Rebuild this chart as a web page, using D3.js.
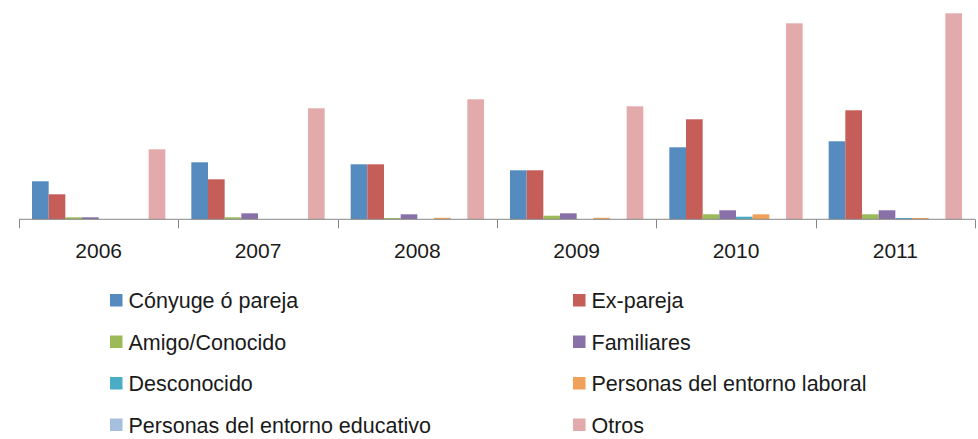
<!DOCTYPE html>
<html>
<head>
<meta charset="utf-8">
<script src="https://cdn.jsdelivr.net/npm/d3@7"></script>
<style>
  body { margin: 0; background: #fff; }
  svg { display: block; font-family: 'Liberation Sans', 'Open Sans', sans-serif; }
</style>
</head>
<body>
<script>
// data
const years = ['2006', '2007', '2008', '2009', '2010', '2011'];
const series = ['Cónyuge ó pareja', 'Ex-pareja', 'Amigo/Conocido', 'Familiares',
  'Desconocido', 'Personas del entorno laboral', 'Personas del entorno educativo', 'Otros'];
const colors = ['#558BBF', '#C55D58', '#9BBB59', '#8A70A8', '#4BACC6', '#F0A058', '#A7BFDE', '#E2AAAA'];

const conyuge   = [38, 57, 55, 49, 72, 78];
const expareja  = [25, 40, 55, 49, 100, 109];
const amigo     = [2, 2, 1.3, 3.6, 5, 5];
const familiares = [2, 6, 5, 6, 9, 9];
const desconocido = [0, 0, 0, 0, 2.6, 1.3];
const laboral   = [0, 0, 1.5, 1.5, 5, 1.3];
const educativo = [0, 0, 0, 0, 0, 0];
const otros     = [70, 111, 120, 113, 196, 206];

const values = [conyuge, expareja, amigo, familiares, desconocido, laboral, educativo, otros];

const width = 978, height = 439;
const baseline = 219.3;
const left = 19, right = 975;

const svg = d3.select('body').append('svg')
  .attr('width', width)
  .attr('height', height);

const x0 = d3.scaleBand().domain(years).range([left, right]).paddingInner(0).paddingOuter(0);
const x1 = d3.scaleBand().domain(d3.range(series.length)).range([0, x0.bandwidth()])
  .paddingInner(0).paddingOuter(0.78);
// one value unit = one pixel
const y = d3.scaleLinear().domain([0, 210]).range([baseline, baseline - 210]);

const groups = svg.append('g').selectAll('g')
  .data(years)
  .enter().append('g')
  .attr('transform', d => `translate(${x0(d)},0)`);

groups.selectAll('rect')
  .data((d, i) => values.map((v, s) => ({ s: s, v: v[i] })))
  .enter().append('rect')
  .attr('x', d => x1(d.s))
  .attr('width', x1.bandwidth())
  .attr('y', d => y(d.v))
  .attr('height', d => baseline - y(d.v))
  .attr('fill', d => colors[d.s]);

// category axis: line with ticks at category boundaries
const axis = svg.append('g');
axis.append('line')
  .attr('x1', left).attr('x2', right)
  .attr('y1', baseline).attr('y2', baseline)
  .attr('stroke', '#888').attr('stroke-width', 1);

const bounds = years.map(d => x0(d)).concat([right]);
axis.selectAll('.tick')
  .data(bounds)
  .enter().append('line')
  .attr('x1', d => Math.round(d) + 0.5).attr('x2', d => Math.round(d) + 0.5)
  .attr('y1', baseline).attr('y2', baseline + 9)
  .attr('stroke', '#888');

axis.selectAll('.label')
  .data(years)
  .enter().append('text')
  .attr('x', d => x0(d) + x0.bandwidth() / 2)
  .attr('y', 258)
  .attr('text-anchor', 'middle')
  .attr('font-size', 21)
  .attr('fill', '#1a1a1a')
  .text(d => d);

// legend, two columns
const legend = svg.append('g');
const item = legend.selectAll('g')
  .data(series)
  .enter().append('g')
  .attr('transform', (d, i) => `translate(${i % 2 === 0 ? 110 : 573},${300.5 + Math.floor(i / 2) * 41.5})`);

item.append('rect')
  .attr('x', 0).attr('y', -6.5)
  .attr('width', 12.5).attr('height', 12.5)
  .attr('fill', (d, i) => colors[i]);

item.append('text')
  .attr('x', 18.5)
  .attr('y', 7.5)
  .attr('font-size', 21.5)
  .attr('fill', '#1a1a1a')
  .text(d => d);
</script>
</body>
</html>
